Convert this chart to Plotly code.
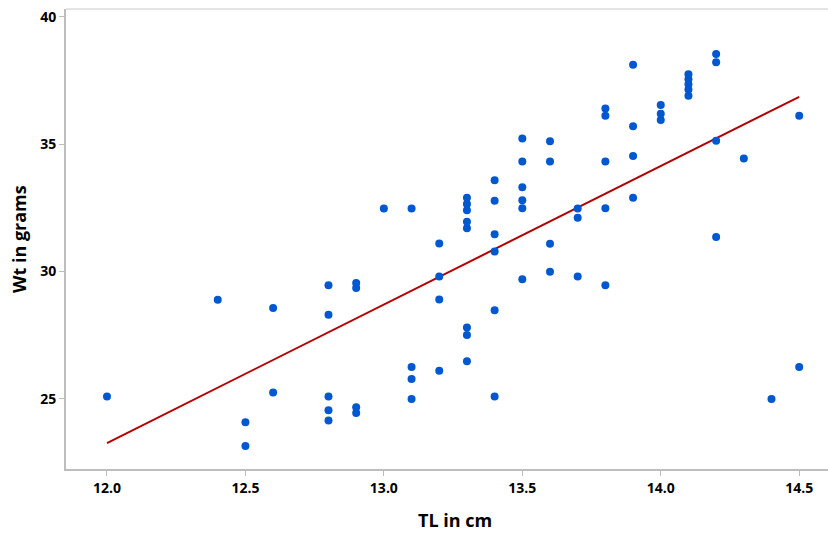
import plotly.graph_objects as go

# Data
tl_cm = [12.0, 12.4, 12.5, 12.5, 12.6, 12.6,
         12.8, 12.8, 12.8, 12.8, 12.8,
         12.9, 12.9, 12.9, 12.9,
         13.0,
         13.1, 13.1, 13.1, 13.1,
         13.2, 13.2, 13.2, 13.2,
         13.3, 13.3, 13.3, 13.3, 13.3, 13.3, 13.3, 13.3,
         13.4, 13.4, 13.4, 13.4, 13.4, 13.4,
         13.5, 13.5, 13.5, 13.5, 13.5, 13.5,
         13.6, 13.6, 13.6, 13.6,
         13.7, 13.7, 13.7,
         13.8, 13.8, 13.8, 13.8, 13.8,
         13.9, 13.9, 13.9, 13.9,
         14.0, 14.0, 14.0,
         14.1, 14.1, 14.1, 14.1, 14.1,
         14.2, 14.2, 14.2, 14.2,
         14.3, 14.4, 14.5, 14.5]
wt_g = [25.09, 28.89, 24.08, 23.14, 28.56, 25.25,
        29.46, 28.30, 25.09, 24.55, 24.15,
        29.55, 29.35, 24.67, 24.44,
        32.47,
        32.47, 26.25, 25.78, 24.99,
        31.10, 29.80, 28.90, 26.10,
        32.90, 32.65, 32.40, 31.95, 31.70, 27.80, 27.50, 26.47,
        33.58, 32.78, 31.46, 30.78, 28.48, 25.09,
        35.22, 34.32, 33.31, 32.80, 32.48, 29.69,
        35.11, 34.32, 31.09, 29.99,
        32.47, 32.11, 29.80,
        36.40, 36.12, 34.32, 32.48, 29.46,
        38.12, 35.70, 34.54, 32.90,
        36.54, 36.20, 35.95,
        37.75, 37.55, 37.35, 37.15, 36.90,
        38.54, 38.22, 35.13, 31.35,
        34.44, 24.99, 36.12, 26.25]

fit_x = [12.0, 14.5]
fit_y = [23.26, 36.86]

x_ticks = [12.0, 12.5, 13.0, 13.5, 14.0, 14.5]
x_tick_labels = ["12.0", "12.5", "13.0", "13.5", "14.0", "14.5"]
y_ticks = [25, 30, 35, 40]

fig = go.Figure()
fig.add_trace(go.Scatter(x=fit_x, y=fit_y, mode="lines",
                         line=dict(color="#b30000", width=2),
                         showlegend=False, hoverinfo="skip"))
fig.add_trace(go.Scatter(x=tl_cm, y=wt_g, mode="markers",
                         marker=dict(color="#0058d0", size=8, line=dict(width=0)),
                         showlegend=False))

axis_font = dict(family="Open Sans", size=14, color="black", weight="bold")

fig.update_layout(
    width=828, height=533,
    margin=dict(l=66, r=0, t=9, b=64),
    paper_bgcolor="white", plot_bgcolor="white",
    font=dict(family="Open Sans", color="black"),
    xaxis=dict(range=[11.852, 14.604], tickvals=x_ticks, ticktext=x_tick_labels,
               automargin=False,
               showgrid=False, zeroline=False, showline=True,
               linecolor="#bdbdbd", linewidth=2, ticks="outside",
               ticklen=5, tickcolor="#bdbdbd", tickwidth=1, tickfont=axis_font),
    yaxis=dict(range=[22.24, 40.31], tickvals=y_ticks, automargin=False,
               showgrid=False, zeroline=False, showline=True,
               linecolor="#bdbdbd", linewidth=2, ticks="outside",
               ticklen=5, tickcolor="#bdbdbd", tickwidth=1, tickfont=axis_font),
    shapes=[dict(type="line", xref="paper", yref="paper", x0=0, x1=1, y0=1, y1=1,
                 line=dict(color="#c8c8c8", width=1))],
    annotations=[
        dict(text="TL in cm", xref="paper", yref="paper", x=(455 - 66) / 762, y=0,
             yshift=-51, showarrow=False, yanchor="middle",
             font=dict(family="Open Sans", size=18, color="black", weight="bold")),
        dict(text="Wt in grams", xref="paper", yref="paper", x=0, y=0.5,
             xshift=-47, showarrow=False, textangle=-90, xanchor="center",
             font=dict(family="Open Sans", size=18, color="black", weight="bold")),
    ],
)

fig.write_html("out.html", config={"displayModeBar": False},
               post_script="document.body.style.margin='0';document.body.style.overflow='hidden';")
